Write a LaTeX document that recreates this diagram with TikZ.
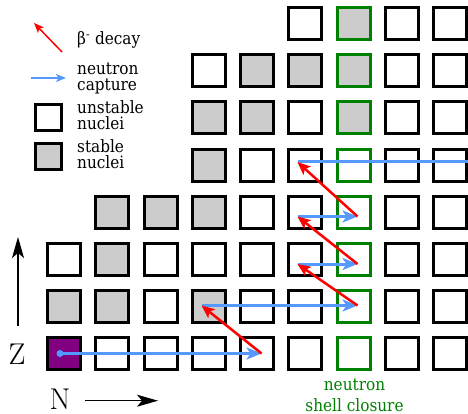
\documentclass[tikz,border=0pt]{standalone}
\usepackage{fontspec}
\newfontfamily\lbl{DejaVu Serif Condensed}
\usetikzlibrary{arrows.meta}
\definecolor{nucgray}{RGB}{204,204,204}
\definecolor{shellgreen}{RGB}{0,128,0}
\definecolor{capblue}{RGB}{85,153,255}
\definecolor{nucpurple}{RGB}{128,0,128}
\begin{document}
\begin{tikzpicture}[x=1pt,y=-1pt,
  cellw/.style={draw=black, line width=3pt, minimum width=33pt, minimum height=32pt, inner sep=0pt, fill=white},
  cellg/.style={cellw, fill=nucgray},
  cellp/.style={cellw, fill=nucpurple},
  cellW/.style={cellw, draw=shellgreen},
  cellG/.style={cellg, draw=shellgreen},
  legcell/.style={draw=black, line width=3pt, minimum size=26pt, inner sep=0pt},
  betaarr/.style={draw=red, line width=2.5pt, -{Stealth[length=13pt,width=11pt,inset=3pt]}},
  captarr/.style={draw=capblue, line width=3pt, -{Stealth[length=15pt,width=12pt,inset=4pt]}},
  legbeta/.style={draw=red, line width=1.5pt, -{Stealth[length=10pt,width=8pt,inset=2.5pt]}},
  legcapt/.style={draw=capblue, line width=1.5pt, -{Stealth[length=10pt,width=8pt,inset=2.5pt]}},
  lbltext/.style={font=\lbl\fontsize{17}{17}\selectfont, inner sep=0pt},
  axisarr/.style={line width=1.5pt, -{Stealth[length=21pt,width=12pt,inset=5pt]}},
  axislbl/.style={font=\fontsize{30}{30}\selectfont, inner sep=0pt},
]
\useasboundingbox (0,0) rectangle (468,414);

% chart of nuclides: column = N, row = Z
\foreach \c/\r/\t in {
  0/0/p, 1/0/w, 2/0/w, 3/0/w, 4/0/w, 5/0/w, 6/0/W, 7/0/w, 8/0/w,
  0/1/g, 1/1/g, 2/1/w, 3/1/g, 4/1/w, 5/1/w, 6/1/W, 7/1/w, 8/1/w,
  0/2/w, 1/2/g, 2/2/w, 3/2/w, 4/2/w, 5/2/w, 6/2/W, 7/2/w, 8/2/w,
  1/3/g, 2/3/g, 3/3/g, 4/3/w, 5/3/w, 6/3/W, 7/3/w, 8/3/w,
  3/4/g, 4/4/w, 5/4/w, 6/4/W, 7/4/w, 8/4/w,
  3/5/g, 4/5/g, 5/5/w, 6/5/G, 7/5/w, 8/5/w,
  3/6/w, 4/6/g, 5/6/g, 6/6/G, 7/6/w, 8/6/w,
  5/7/w, 6/7/G, 7/7/w, 8/7/w}
  \node[cell\t] (n-\c-\r) at ({64+48.25*\c},{353.5-47.1*\r}) {};

% s-process path
\coordinate (p0) at (60,353.5);
\coordinate (a1) at (261.5,353.5);
\coordinate (b1) at (201.5,305.5);
\coordinate (c1) at (357.5,305.5);
\coordinate (b2) at (297.5,264);
\coordinate (c2) at (357.5,264);
\coordinate (b3) at (297.5,216.5);
\coordinate (c3) at (357.5,216.5);
\coordinate (b4) at (297.5,162);
\coordinate (e4) at (468,162);

\fill[capblue] (p0) circle (3.5pt);
\draw[captarr] (p0) -- (a1);
\draw[captarr] (b1) -- (c1);
\draw[captarr] (b2) -- (c2);
\draw[captarr] (b3) -- (c3);
\draw[capblue, line width=3pt] (b4) -- (e4);
\draw[betaarr] (a1) -- (b1);
\draw[betaarr] (c1) -- (b2);
\draw[betaarr] (c2) -- (b3);
\draw[betaarr] (c3) -- (b4);

% legend
\coordinate (lb1) at (62,52);
\coordinate (lb2) at (34,23);
\coordinate (lc1) at (31,78);
\coordinate (lc2) at (66,78);
\draw[legbeta] (lb1) -- (lb2);
\draw[legcapt] (lc1) -- (lc2);
\node[legcell, fill=white] (lu) at (48.5,117.5) {};
\node[legcell, fill=nucgray] (ls) at (48.5,156.5) {};
\node[lbltext, anchor=base west] (t1) at (77,45) {β\textsuperscript{-} decay};
\node[lbltext, anchor=base west] (t2) at (77,75) {neutron};
\node[lbltext, anchor=base west] (t3) at (77,90.5) {capture};
\node[lbltext, anchor=base west] (t4) at (77,113.5) {unstable};
\node[lbltext, anchor=base west] (t5) at (77,130) {nuclei};
\node[lbltext, anchor=base west] (t6) at (77,152.5) {stable};
\node[lbltext, anchor=base west] (t7) at (77,168.5) {nuclei};

% shell closure label
\node[lbltext, text=shellgreen, anchor=base] (g1) at (354.5,390) {neutron};
\node[lbltext, text=shellgreen, anchor=base] (g2) at (354.5,411.5) {shell closure};

% axes
\coordinate (zb) at (18,326);
\coordinate (zt) at (18,237);
\coordinate (nl) at (85,400.7);
\coordinate (nr) at (158,400.7);
\draw[axisarr] (zb) -- (zt);
\draw[axisarr] (nl) -- (nr);
\node[axislbl] (zl) at (17,354) {Z};
\node[axislbl] (nlab) at (60,399.5) {N};
\end{tikzpicture}
\end{document}
